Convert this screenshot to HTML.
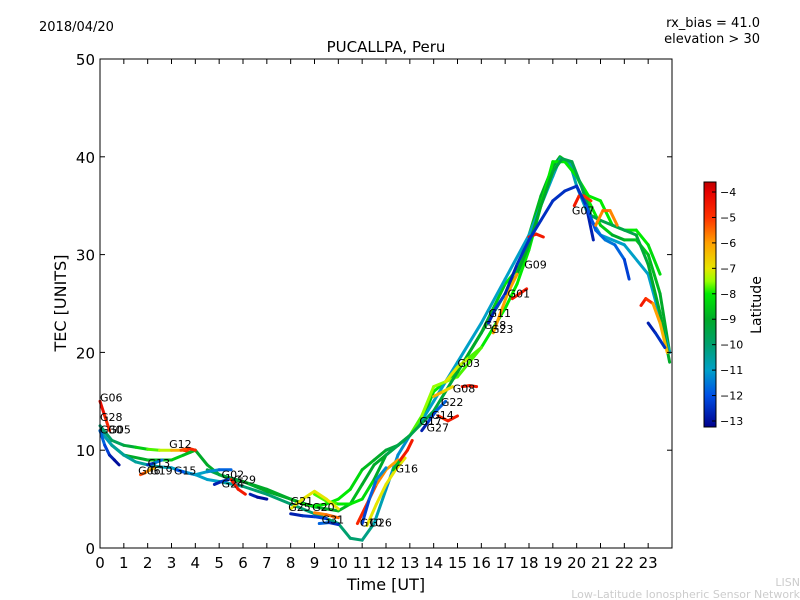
<!DOCTYPE html>
<html><head><meta charset="utf-8"><style>
body{margin:0;background:#fff;}
svg{display:block;font-family:"DejaVu Sans","Liberation Sans",sans-serif;}
</style></head><body>
<svg id="chart" width="800" height="600" viewBox="0 0 800 600">
<defs>
<linearGradient id="cbg" x1="0" y1="1" x2="0" y2="0"></linearGradient>
</defs>
<rect x="0" y="0" width="800" height="600" fill="#fff"/>
<text x="39" y="31" font-size="13">2018/04/20</text>
<text x="760" y="27" font-size="13" text-anchor="end">rx_bias = 41.0</text>
<text x="760" y="43" font-size="13" text-anchor="end">elevation &gt; 30</text>
<text x="386" y="52" font-size="15" text-anchor="middle">PUCALLPA, Peru</text>
<g id="tracks"></g>
<g id="labels"></g>
<rect x="100" y="59" width="572" height="489" fill="none" stroke="#000" stroke-width="1"/>
<g id="xaxis"></g>
<g id="yaxis"></g>
<text x="386" y="590" font-size="16" text-anchor="middle">Time [UT]</text>
<text x="0" y="0" font-size="16" text-anchor="middle" transform="translate(66,303) rotate(-90)">TEC [UNITS]</text>
<rect x="704" y="182" width="12" height="245" fill="url(#cbg)" stroke="#000" stroke-width="1"/>
<g id="cbticks"></g>
<text x="0" y="0" font-size="14" text-anchor="middle" transform="translate(761,305) rotate(-90)">Latitude</text>
<text x="800" y="586" font-size="11" fill="#ccc" text-anchor="end">LISN</text>
<text x="800" y="598" font-size="11" fill="#ccc" text-anchor="end">Low-Latitude Ionospheric Sensor Network</text>
</svg>
<script>
// ---- data ----
const xTicks=[0,1,2,3,4,5,6,7,8,9,10,11,12,13,14,15,16,17,18,19,20,21,22,23];
const yTicks=[0,10,20,30,40,50];
const cbTicks=[-4,-5,-6,-7,-8,-9,-10,-11,-12,-13];
const trackNames=["T1","T2","T3","T4","T5","G06","G30","G19","G13","G12","G15","G24","G29","B1","G21","G25","G20","G31","G10","G26","Y1","G16","G27","G14","G08","G22","G03","G18","G23","G01","G09","G07","B2","B3","O1","R1","B4"];
const trackTimes=[
[0,0.5,1,1.5,2,2.5,3,3.5,3.8],
[0,0.5,1,2,3,3.5,4,4.5,5,5.5,6,7,8,9,10,10.5,11,11.5,12,12.5,13,13.5,14,14.5,15,15.5,16,16.5,17,17.5,18,18.5,19,19.3,19.6,20,20.5,21,21.5,22,22.5,23,23.5,23.9],
[0,0.5,1,1.5,2,2.5,3,3.5,4,4.5,5,6,7,8,9,9.5,10,10.5,11,11.5,12,12.5,13,13.5,14,15,16,17,18,19,19.3,19.7,20,20.5,21,22,23,23.9],
[4.5,5,6,7,8,8.5,9,9.5,10,10.5,11,11.5,12,12.5,13,13.5,14,14.5,15,16,17,17.5,18,18.5,19,19.5,20,20.5,21,21.5,22,22.5,23,23.5],
[9,9.5,10,10.5,11,11.5,12,12.5,13,14,15,16,17,17.5,18,18.5,19,19.4,19.8,20.2,20.6,21,21.5,22,22.5,23,23.5,23.9],
[0,0.2,0.4],
[0,0.2,0.4,0.6,0.8],
[1.7,1.9,2.1,2.3],
[2.0,2.3,2.6],
[3.4,3.7,4.0],
[3.2,3.6,4.0,4.5,5.0,5.5],
[4.8,5.1,5.4],
[5.5,5.8,6.1],
[6.3,6.6,7.0],
[8.0,8.5,9.0,9.5,10.0],
[8.0,8.5,9.0,9.5],
[9.0,9.5,10.0],
[9.2,9.6,10.0],
[10.8,11.2,11.6,12.0,12.5],
[11.0,11.3,11.6,12.0],
[11.2,11.6,12.0,12.4,12.8],
[12.3,12.6,12.9,13.1],
[13.5,13.8,14.1,14.5],
[14.2,14.6,15.0],
[15.2,15.5,15.8],
[14.0,14.4,14.8],
[14.5,15.0,15.5,16.0],
[16.3,16.6,17.0],
[16.5,16.8,17.1,17.5],
[17.3,17.6,17.9],
[18.0,18.3,18.6],
[19.9,20.1,20.3,20.6],
[17.0,17.5,18.0,18.5,19.0,19.5,20.0,20.4,20.7],
[20.4,20.8,21.2,21.6,22.0,22.2],
[20.8,21.1,21.4,21.7],
[22.7,22.9,23.2,23.5,23.8],
[23.0,23.3,23.7]
];
const trackTec=[
[12.5,11,10.5,10.3,10.1,10,10,10,9.8],
[12,10.5,9.5,9,9,9.5,10,8.5,7.5,7,6.8,6,5,4.2,3.8,4.5,6.5,8.5,9.5,10.5,11.5,13,16,17,18,20,22,24.5,27,28.5,32,36,39,40,39.5,38,35.5,33,32,31.5,31.5,30,26,20],
[12,10.5,9.5,8.8,8.5,8.3,8.2,7.8,7.5,7,6.8,6.3,5.5,4.5,3.5,3,2.5,1,0.8,2.5,6,9.5,11.5,13,15,19,23,27.5,32,38,39.8,39.5,37,34,32,31,28,20],
[8,7.5,6.8,5.8,5,4.5,4.3,4.5,5,6,8,9,10,10.5,11.5,13.5,16.5,17,17.5,20.5,24.5,27,30.5,35,39.5,39.5,38,36,35.5,33,32.5,32.5,31,28,22],
[5.5,4.8,4.5,4.5,5,7,9.5,10.5,11.5,14,18,22,26,28,31,35,38.5,39.8,39.5,37,34,33.5,33,32.5,32,29,24,19],
[15,13.5,12],
[12,10.5,9.5,9,8.5],
[7.5,7.7,8,8.2],
[8.5,8.7,9],
[10,10.2,10],
[8,7.7,7.5,7.8,8,8],
[6.5,6.8,7],
[7,6,5.5],
[5.5,5.2,5],
[4,5,5.8,5,4],
[3.5,3.3,3.2,3],
[3.6,3.4,3.1],
[2.5,2.6,2.4],
[2.5,4.5,6.5,8,9],
[2.5,5,7,8.2],
[2.3,4.5,6.5,8,9.2],
[8,9,10,11],
[12,13,14,15],
[13.5,13,13.5],
[16.5,16.6,16.5],
[15.5,16,16.5],
[17,18.5,19.5,20.5],
[23,24.5,26],
[22,24,26,28],
[25.5,26,26.5],
[31.8,32.1,31.8],
[35,36,36,35.5],
[26,29,31.5,33.5,35.5,36.5,37,35,31.5],
[35,32.5,31.5,31,29.5,27.5],
[33,34.5,34.5,33],
[24.8,25.5,25,23,20],
[23,22,20.5]
];
const trackLat=[
[-10,-10,-9.5,-9,-8,-7.5,-7,-5.5,-4.5],
[-9,-9,-9,-9,-8.5,-8.5,-9,-9,-9,-9,-9,-9,-9,-9,-9,-8.5,-9,-9,-9,-9,-9,-9,-8,-8,-8.5,-9,-9,-9,-8,-8,-8.5,-9,-9,-9,-8.5,-8.5,-8,-8,-9,-9,-8.5,-8.5,-9,-9],
[-11,-10.5,-10.5,-10.5,-10.5,-10.5,-11,-11,-11,-11,-11,-10,-10,-10,-10,-10,-10,-10,-10,-10.5,-11,-11.5,-11,-11,-11,-11,-11,-11,-11,-11,-10.5,-10.5,-11,-11,-11,-11,-11,-11],
[-9.5,-9.5,-9,-9,-9,-8.5,-8,-8,-8,-8,-8.5,-9,-9,-9.5,-8,-7.5,-7.5,-7.5,-7.5,-8,-8,-8,-8,-8,-8,-8,-8,-8,-8,-8,-8,-8,-8,-8.5],
[-8,-7.5,-8,-8,-8,-8.5,-9.5,-9.5,-9.5,-9.5,-9,-9,-9,-9,-9,-9,-9,-9.5,-9.5,-9.5,-9.5,-9.5,-9.5,-9.5,-9.5,-9,-9,-9],
[-4,-4.5,-5],
[-11.5,-12,-12.5,-13,-13],
[-5,-5.5,-6,-6.5],
[-13,-12,-11],
[-5.5,-5,-4.5],
[-12.5,-11.5,-11,-11,-11.5,-12],
[-13,-12.5,-12],
[-4.5,-4.5,-4.5],
[-12.5,-13,-13],
[-7,-7,-7,-7,-7],
[-13,-12.5,-12.5,-12],
[-6,-5.5,-5.5],
[-11.5,-12,-13],
[-4.5,-5,-5.5,-6,-6],
[-12.5,-12,-11.5,-11],
[-7,-7,-7,-7,-7],
[-13,-4.5,-4.5,-4.5],
[-13,-12.5,-12,-11.5],
[-5,-4.5,-4.5],
[-4.5,-4.5,-4.5],
[-6,-6.5,-7],
[-7,-7,-7.5,-8],
[-13,-12.5,-12],
[-6,-6,-6,-6],
[-4.5,-4.5,-4.5],
[-4.5,-4.5,-4.5],
[-4.5,-4.5,-5,-5],
[-13,-12.5,-12.5,-12.5,-12.5,-12.5,-12.5,-12.5,-13],
[-12,-12,-11.5,-11.5,-12,-12.5],
[-6,-5.5,-5.5,-6],
[-4.5,-4.5,-5.5,-6.5,-6],
[-13,-12.5,-12.5]
];
const satLabels=["G06","G28","G30","G05","G12","G13","G06","G19","G15","G02","G24","G29","G21","G25","G20","G31","G10","G26","G16","G27","G17","G14","G22","G08","G03","G18","G11","G23","G01","G09","G07"];
const satLabelT=[0,0,0,0.35,2.9,2,1.6,2.1,3.1,5.1,5.1,5.6,8.0,7.9,8.9,9.3,10.9,11.3,12.4,13.7,13.4,13.9,14.3,14.8,15.0,16.1,16.3,16.4,17.1,17.8,19.8];
const satLabelV=[15,13,11.7,11.7,10.2,8.3,7.5,7.5,7.5,7.1,6.2,6.6,4.4,3.8,3.8,2.5,2.2,2.2,7.7,11.9,12.6,13.2,14.5,15.9,18.5,22.4,23.6,22.0,25.6,28.6,34.1];

// ---- scales ----
const X0=100,X1=672,Y0=548,Y1=59;
const xs=t=>X0+t*(X1-X0)/24;
const ys=v=>Y0-v*(Y0-Y1)/50;
const cbY=l=>192+(-4-l)*(421-192)/9;
const stops=[[-13.24,[0,0,140]],[-12,[0,80,230]],[-11,[0,160,200]],[-10,[0,160,110]],[-9,[0,170,40]],[-8,[0,235,0]],[-7.5,[150,255,0]],[-7,[230,230,0]],[-6,[255,160,0]],[-5,[255,50,0]],[-4,[230,0,0]],[-3.6,[190,0,0]]];
function col(l){
  if(l<=stops[0][0])return `rgb(${stops[0][1]})`;
  for(let i=1;i<stops.length;i++){if(l<=stops[i][0]){const a=stops[i-1],b=stops[i],f=(l-a[0])/(b[0]-a[0]);return `rgb(${a[1].map((c,k)=>Math.round(c+(b[1][k]-c)*f)).join(',')})`;}}
  return `rgb(${stops[stops.length-1][1]})`;
}
const NS="http://www.w3.org/2000/svg";
function mk(tag,attrs,parent){const e=document.createElementNS(NS,tag);for(const k in attrs)e.setAttribute(k,attrs[k]);parent.appendChild(e);return e;}

const g=document.getElementById('cbg');
for(const s of stops){mk('stop',{offset:((s[0]+13.24)/(13.24-3.6)).toFixed(3),'stop-color':col(s[0])},g);}

const tg=document.getElementById('tracks');
trackTimes.forEach((ts,i)=>{
  const grp=mk('g',{},tg);
  
  
  for(let j=0;j<ts.length-1;j++){
    const ln=mk('line',{x1:xs(ts[j]),y1:ys(trackTec[i][j]),x2:xs(ts[j+1]),y2:ys(trackTec[i][j+1]),stroke:col((trackLat[i][j]+trackLat[i][j+1])/2),'stroke-width':3,'stroke-linecap':'round'},grp);
    
    
  }
});
const lg=document.getElementById('labels');
satLabels.forEach((s,i)=>{
  const t=mk('text',{x:xs(satLabelT[i]),y:ys(satLabelV[i]),'font-size':11},lg);
  t.textContent=s;
  
  
});
const xg=document.getElementById('xaxis');
xTicks.forEach(v=>{
  const x=xs(v);
  const a=mk('line',{x1:x,y1:Y0,x2:x,y2:Y0-5,stroke:'#000'},xg);
  
  
  const b=mk('line',{x1:x,y1:Y1,x2:x,y2:Y1+5,stroke:'#000'},xg);
  
  
  const t=mk('text',{x:x,y:568,'font-size':15,'text-anchor':'middle'},xg);
  t.textContent=v;
  
  
});
const yg=document.getElementById('yaxis');
yTicks.forEach(v=>{
  const y=ys(v);
  const a=mk('line',{x1:X0,y1:y,x2:X0+5,y2:y,stroke:'#000'},yg);
  
  
  const b=mk('line',{x1:X1,y1:y,x2:X1-5,y2:y,stroke:'#000'},yg);
  
  
  const t=mk('text',{x:95,y:y+6,'font-size':15,'text-anchor':'end'},yg);
  t.textContent=v;
  
  
});
const cg=document.getElementById('cbticks');
cbTicks.forEach(v=>{
  const y=cbY(v);
  const a=mk('line',{x1:712,y1:y,x2:716,y2:y,stroke:'#000'},cg);
  
  
  const t=mk('text',{x:720,y:y+4,'font-size':11},cg);
  t.textContent='\u2212'+Math.abs(v);
  
  
});
</script>
</body></html>
